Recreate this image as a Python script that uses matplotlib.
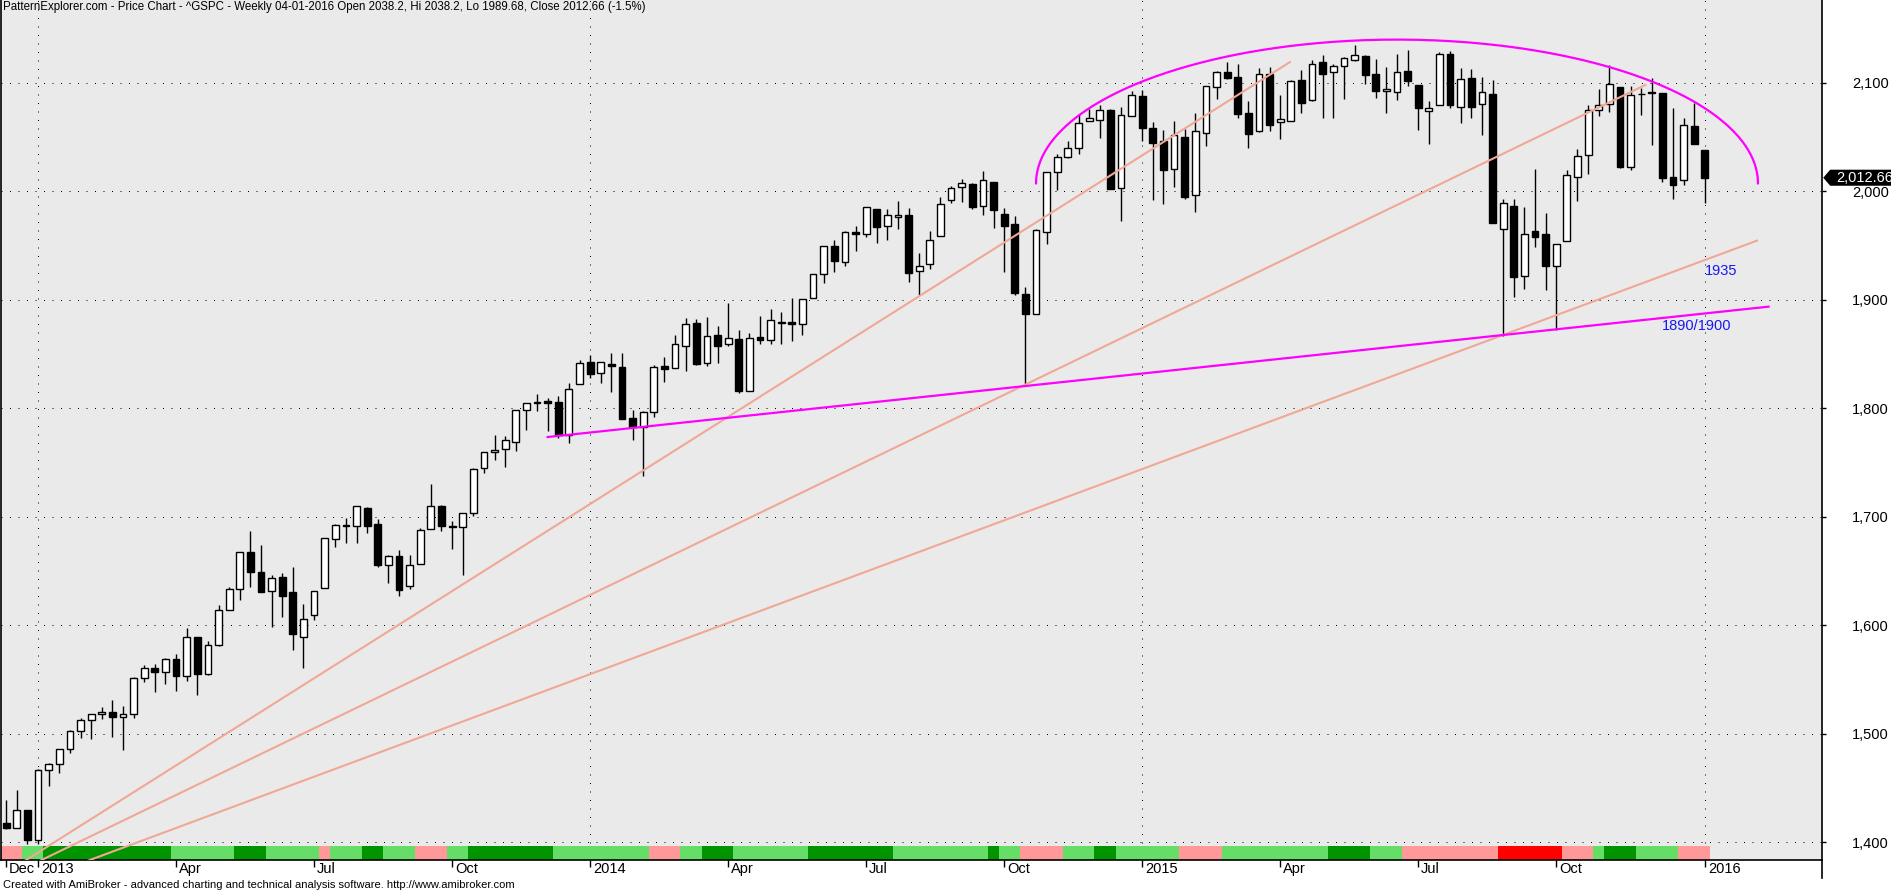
import numpy as np
import matplotlib
matplotlib.use("Agg")
import matplotlib.pyplot as plt
from matplotlib.transforms import blended_transform_factory, ScaledTranslation
from matplotlib.patches import Polygon
from matplotlib.lines import Line2D

plt.rcParams['font.family'] = ['Liberation Sans', 'DejaVu Sans']

# weekly ^GSPC bars, Dec 2012 .. Jan 2016 (one entry per week)
opens = [
    1418.1, 1413.5, 1430.2, 1402.4, 1466.5, 1472.1, 1486.0, 1503.0, 1513.2, 1517.9,
    1519.8, 1515.6, 1518.2, 1551.2, 1560.7, 1556.9, 1569.2, 1553.3, 1588.8, 1555.3,
    1582.3, 1614.4, 1633.7, 1667.5, 1649.6, 1631.7, 1644.7, 1630.6, 1588.8, 1609.8,
    1634.2, 1679.6, 1692.1, 1691.7, 1708.0, 1693.4, 1655.3, 1664.3, 1636.0, 1656.9,
    1689.0, 1709.9, 1691.7, 1690.5, 1703.2, 1745.2, 1759.4, 1763.0, 1769.3, 1798.8,
    1804.8, 1806.6, 1806.2, 1775.4, 1822.9, 1843.0, 1832.3, 1841.3, 1837.9, 1791.0,
    1782.7, 1797.0, 1838.8, 1836.8, 1857.7, 1878.3, 1841.7, 1867.7, 1859.2, 1863.9,
    1816.1, 1865.8, 1863.4, 1879.5, 1880.0, 1877.9, 1902.0, 1923.9, 1949.4, 1934.8,
    1962.9, 1960.8, 1984.2, 1967.7, 1976.9, 1978.3, 1926.3, 1933.4, 1958.9, 1991.7,
    2004.1, 2007.2, 1986.5, 2009.1, 1979.0, 1970.0, 1905.7, 1886.8, 1963.0, 2018.2,
    2032.0, 2039.7, 2065.1, 2065.8, 2074.8, 2002.9, 2069.3, 2087.6, 2058.9, 2046.1,
    2020.8, 2050.4, 1996.7, 2053.5, 2096.5, 2109.8, 2105.2, 2072.3, 2055.4, 2108.0,
    2064.1, 2064.9, 2102.9, 2084.1, 2119.3, 2110.2, 2115.6, 2121.3, 2125.3, 2108.6,
    2092.3, 2091.3, 2110.6, 2098.6, 2074.0, 2080.0, 2126.8, 2078.2, 2104.5, 2081.0,
    2089.7, 1965.2, 1986.7, 1921.8, 1963.1, 1960.8, 1931.2, 1954.3, 2013.7, 2033.5,
    2075.1, 2080.8, 2096.6, 2022.1, 2089.4, 2091.0, 2090.4, 2013.4, 2010.3, 2060.6,
    2038.2]

highs = [
    1438.6, 1448.0, 1430.2, 1467.9, 1472.8, 1486.0, 1503.3, 1514.4, 1518.3, 1524.7,
    1530.9, 1525.8, 1552.5, 1563.3, 1564.6, 1570.3, 1573.7, 1597.4, 1588.8, 1585.8,
    1618.5, 1635.0, 1667.5, 1687.2, 1674.2, 1646.5, 1648.7, 1654.2, 1620.1, 1631.9,
    1680.2, 1693.1, 1698.8, 1709.7, 1709.2, 1697.9, 1664.9, 1669.5, 1664.8, 1690.0,
    1729.9, 1711.4, 1696.6, 1703.4, 1745.3, 1759.8, 1775.2, 1774.5, 1798.2, 1804.8,
    1813.6, 1810.0, 1811.5, 1823.8, 1844.9, 1849.4, 1843.2, 1850.8, 1850.8, 1798.8,
    1798.0, 1840.2, 1847.5, 1867.9, 1883.6, 1882.4, 1884.0, 1875.9, 1897.3, 1872.5,
    1869.6, 1884.9, 1891.3, 1889.1, 1902.2, 1901.3, 1924.0, 1949.4, 1955.6, 1963.9,
    1968.2, 1985.6, 1984.2, 1983.9, 1991.4, 1984.9, 1942.9, 1964.0, 1994.8, 2005.0,
    2011.2, 2007.7, 2019.3, 2009.1, 1985.2, 1977.8, 1912.1, 1965.3, 2018.2, 2034.3,
    2046.2, 2071.5, 2075.8, 2079.5, 2075.8, 2077.9, 2092.7, 2093.6, 2064.4, 2056.9,
    2064.6, 2057.6, 2072.4, 2097.0, 2110.6, 2119.6, 2117.5, 2083.5, 2113.9, 2114.9,
    2089.0, 2102.6, 2111.9, 2120.9, 2125.9, 2117.7, 2123.9, 2134.7, 2126.2, 2121.9,
    2115.0, 2126.7, 2130.0, 2098.6, 2083.1, 2128.6, 2129.2, 2114.2, 2112.7, 2105.4,
    2102.9, 1993.5, 1993.5, 1986.0, 2020.9, 1980.0, 1951.8, 2020.1, 2039.1, 2079.7,
    2094.3, 2116.5, 2096.6, 2097.1, 2095.6, 2104.3, 2090.4, 2076.7, 2067.7, 2081.6,
    2038.2]

lows = [
    1411.9, 1413.5, 1398.1, 1398.1, 1451.6, 1463.8, 1482.6, 1496.3, 1495.0, 1514.1,
    1497.3, 1485.0, 1514.9, 1547.4, 1538.6, 1546.2, 1539.5, 1548.6, 1536.0, 1554.4,
    1581.3, 1614.4, 1623.7, 1635.5, 1630.7, 1598.2, 1608.1, 1577.7, 1560.3, 1604.6,
    1634.2, 1671.8, 1676.0, 1676.0, 1684.9, 1654.2, 1639.4, 1627.5, 1633.4, 1656.9,
    1689.0, 1687.1, 1670.4, 1646.5, 1700.7, 1740.5, 1752.7, 1746.2, 1760.6, 1780.0,
    1797.2, 1779.1, 1772.3, 1768.0, 1822.9, 1827.7, 1823.7, 1815.5, 1790.3, 1770.5,
    1737.9, 1791.8, 1824.6, 1836.8, 1834.4, 1839.6, 1839.5, 1842.1, 1857.6, 1814.4,
    1815.8, 1859.7, 1859.8, 1859.8, 1862.4, 1868.1, 1902.0, 1916.0, 1925.8, 1930.9,
    1944.7, 1958.2, 1952.9, 1955.6, 1965.8, 1916.4, 1904.8, 1928.3, 1958.9, 1989.2,
    1990.1, 1983.7, 1978.5, 1966.0, 1926.0, 1905.0, 1820.7, 1886.8, 1951.4, 2001.0,
    2030.4, 2034.5, 2064.8, 2049.6, 2002.3, 1972.6, 2069.3, 2046.5, 1992.4, 1988.1,
    2004.5, 1993.4, 1980.9, 2041.9, 2085.4, 2103.8, 2067.3, 2039.7, 2055.2, 2055.8,
    2048.4, 2064.9, 2072.1, 2083.7, 2067.9, 2067.9, 2085.6, 2120.5, 2099.2, 2085.7,
    2072.1, 2084.6, 2097.4, 2056.6, 2044.0, 2080.0, 2077.1, 2063.5, 2067.9, 2052.1,
    1970.9, 1867.0, 1903.1, 1910.2, 1948.5, 1908.8, 1871.9, 1954.3, 1991.0, 2016.0,
    2069.3, 2072.9, 2022.0, 2019.4, 2070.3, 2042.4, 2008.8, 1993.3, 2005.9, 2043.6,
    1989.7]

closes = [
    1413.6, 1430.2, 1402.4, 1466.5, 1472.1, 1486.0, 1503.0, 1513.2, 1517.9, 1519.8,
    1515.6, 1518.2, 1551.2, 1560.7, 1556.9, 1569.2, 1553.3, 1588.9, 1555.3, 1582.2,
    1614.4, 1633.7, 1667.5, 1649.6, 1630.7, 1643.4, 1626.7, 1592.4, 1606.3, 1631.9,
    1680.2, 1692.1, 1691.7, 1709.7, 1691.4, 1655.8, 1663.5, 1633.0, 1655.2, 1688.0,
    1709.9, 1691.8, 1690.5, 1703.2, 1744.5, 1759.8, 1761.6, 1770.6, 1798.2, 1804.8,
    1805.8, 1805.1, 1775.3, 1818.3, 1841.4, 1831.4, 1842.4, 1838.7, 1790.3, 1782.6,
    1797.0, 1838.6, 1836.3, 1859.5, 1878.0, 1841.1, 1866.5, 1857.6, 1865.1, 1815.7,
    1864.9, 1863.4, 1881.1, 1878.5, 1877.9, 1900.5, 1923.6, 1949.4, 1936.2, 1962.9,
    1961.0, 1985.4, 1967.6, 1978.2, 1978.3, 1925.2, 1931.6, 1955.1, 1988.4, 2003.4,
    2007.7, 1985.5, 2010.4, 1982.9, 1967.9, 1906.1, 1886.8, 1964.6, 2018.1, 2031.9,
    2039.8, 2063.5, 2067.6, 2075.4, 2002.3, 2070.7, 2088.8, 2058.2, 2044.8, 2019.4,
    2051.8, 1995.0, 2055.5, 2097.0, 2110.3, 2104.5, 2071.3, 2053.4, 2108.1, 2061.0,
    2067.0, 2102.1, 2081.2, 2117.7, 2108.3, 2116.1, 2122.7, 2126.1, 2107.4, 2092.8,
    2094.1, 2110.0, 2101.5, 2076.8, 2076.6, 2126.6, 2079.7, 2103.8, 2077.6, 2091.5,
    1970.9, 1988.9, 1921.2, 1961.1, 1958.1, 1931.3, 1951.4, 2014.9, 2033.1, 2075.2,
    2079.4, 2099.2, 2023.0, 2089.2, 2090.1, 2091.7, 2012.4, 2005.6, 2061.0, 2043.9,
    2012.66]

# bar index of the first week of each labelled month
tick_pos = [0, 3, 16, 29, 42, 55, 68, 81, 94, 107, 120, 133, 146, 160]
tick_labels = ["Dec", "2013", "Apr", "Jul", "Oct", "2014", "Apr", "Jul", "Oct",
               "2015", "Apr", "Jul", "Oct", "2016"]
year_pos = [3, 55, 107, 160]
price_ticks = [1400, 1500, 1600, 1700, 1800, 1900, 2000, 2100]

# trend ribbon at the bottom: (colour code, number of weeks)
ribbon_runs = [("P", 2), ("L", 2), ("D", 12), ("L", 6), ("D", 3), ("L", 5), ("P", 1),
               ("L", 3), ("D", 2), ("L", 3), ("P", 3), ("L", 2), ("D", 8), ("L", 9),
               ("P", 3), ("L", 2), ("D", 3), ("L", 7), ("D", 8), ("L", 9), ("D", 1),
               ("L", 2), ("P", 4), ("L", 3), ("D", 2), ("L", 6), ("P", 4), ("L", 10),
               ("D", 4), ("L", 3), ("P", 9), ("R", 6), ("P", 3), ("L", 1), ("D", 3),
               ("L", 4), ("P", 3)]
ribbon_colors = {"P": "#FF9999", "L": "#66DD66", "D": "#009400", "R": "#FF0000"}

# hand drawn studies: (bar, price) end points
salmon_lines = [((0, 1372.0), (121.0, 2119.8)),
                ((0, 1367.9), (154.5, 2098.7)),
                ((0, 1355.0), (165.0, 1955.0))]
support_line = ((51.0, 1773.6), (166.0, 1893.8))
arc_left, arc_right, arc_base, arc_top = 97.0, 165.0, 2007.5, 2140.0

title = ("PatternExplorer.com - Price Chart - ^GSPC - Weekly 04-01-2016 Open 2038.2, "
         "Hi 2038.2, Lo 1989.68, Close 2012.66 (-1.5%)")
footer = ("Created with AmiBroker - advanced charting and technical analysis software. "
          "http://www.amibroker.com")

W, H = 1891, 892
fig = plt.figure(figsize=(W / 100, H / 100), dpi=100)
ax_l, ax_r, ax_b = 0.5 / W, 1822 / W, (H - 860.3) / H
ax = fig.add_axes([ax_l, ax_b, ax_r - ax_l, 1 - ax_b])
ax.set_facecolor("#EAEAEA")
ax.set_xlim(-0.537, 171.03)
ax.set_ylim(1383.4, 2176.5)

o = np.array(opens)
h = np.array(highs)
lo = np.array(lows)
c = np.array(closes)
x = np.arange(len(c))

# dotted grid
for p in price_ticks:
    ax.axhline(p, color="black", lw=0.72, ls=(0, (1, 7.5)), zorder=1)
for p in year_pos:
    ax.axvline(p, color="black", lw=0.72, ls=(0, (1, 7.5)), zorder=1)

# ribbon
trans_xa = blended_transform_factory(ax.transData, ax.transAxes)
codes = [k for k, n in ribbon_runs for _ in range(n)]
ax.bar(np.arange(len(codes)), 0.0166, width=1.0, bottom=0,
       color=[ribbon_colors[k] for k in codes], transform=trans_xa,
       linewidth=0, zorder=2)

# candles
up = c >= o
ax.vlines(x, lo, h, color="black", lw=1.0, zorder=3)
ax.bar(x, np.maximum(np.abs(c - o), 0.4), width=0.64, bottom=np.minimum(o, c),
       color=np.where(up, "white", "black"), edgecolor="black", lw=1.0, zorder=4)

# studies
for (x0, y0), (x1, y1) in salmon_lines:
    ax.plot([x0, x1], [y0, y1], color="#F0A896", lw=1.5, zorder=5,
            solid_capstyle="butt")
(sx0, sy0), (sx1, sy1) = support_line
ax.plot([sx0, sx1], [sy0, sy1], color="#FF00FF", lw=1.6, zorder=6)
t = np.linspace(0, np.pi, 200)
cx, a = (arc_left + arc_right) / 2, (arc_right - arc_left) / 2
ax.plot(cx - a * np.cos(t), arc_base + (arc_top - arc_base) * np.sin(t),
        color="#FF00FF", lw=1.6, zorder=6)

ax.text(161.5, 1926.7, "1935", color="#1818F0", fontsize=10.5,
        ha="center", va="center", zorder=7)
ax.text(159.2, 1876.0, "1890/1900", color="#1818F0", fontsize=10.5,
        ha="center", va="center", zorder=7)

# axes styling
ax.spines["top"].set_visible(False)
for s in ("left", "right", "bottom"):
    ax.spines[s].set_linewidth(1.2)
ax.yaxis.tick_right()
ax.set_yticks(price_ticks, [f"{p:,}" for p in price_ticks])
ax.tick_params(axis="y", direction="out", length=3.2, width=1, pad=18.5,
               labelsize=10.5)
ax.set_xticks(tick_pos, tick_labels)
ax.tick_params(axis="x", direction="out", length=5, width=1, pad=-3.5,
               labelsize=10.5)
shift = ScaledTranslation(3 / 100, 0, fig.dpi_scale_trans)
for lab in ax.get_xticklabels():
    lab.set_horizontalalignment("left")
    lab.set_transform(lab.get_transform() + shift)

# last price marker
trans_ad = blended_transform_factory(ax.transAxes, ax.transData)
last = closes[-1]
hh = 7.4
ax.add_patch(Polygon([(1.0007, last), (1.0045, last + hh), (1.06, last + hh),
                      (1.06, last - hh), (1.0045, last - hh)], closed=True,
                     facecolor="black", edgecolor="none", transform=trans_ad,
                     clip_on=False, zorder=10))
ax.text(1.0077, last, f"{last:,.2f}", color="white", fontsize=10.5, ha="left",
        va="center", transform=trans_ad, clip_on=False, zorder=11)

# right axis line continues below the chart
fig.add_artist(Line2D([ax_r, ax_r], [ax_b, (H - 877.7) / H], color="black", lw=1.2))

fig.text(3 / W, 1 - 1 / H, title, ha="left", va="top", fontsize=8.3)
fig.text(3 / W, (H - 885) / H, footer, ha="left", va="center", fontsize=8.0)

fig.savefig("out.png", dpi=100, facecolor="white")
